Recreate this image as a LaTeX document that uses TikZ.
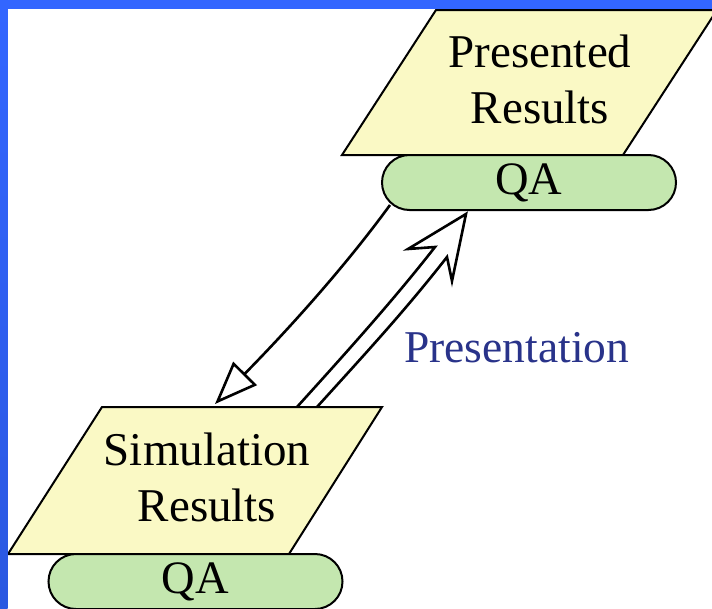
\documentclass[tikz,border=0pt]{standalone}
\usepackage{fontspec}
\setmainfont{Liberation Serif}
\usetikzlibrary{shapes.misc,arrows.meta}
\definecolor{pyellow}{RGB}{250,249,197}
\definecolor{pgreen}{RGB}{196,231,175}
\definecolor{frameblue}{RGB}{51,102,255}
\definecolor{frameblue2}{RGB}{42,88,225}
\definecolor{labelnavy}{RGB}{41,51,138}
\tikzset{
  databox/.style={draw=black, line width=2pt, fill=pyellow, line join=miter},
  qapill/.style={rounded rectangle, draw=black, line width=2pt, fill=pgreen,
     minimum width=294pt, minimum height=55pt, inner sep=0pt,
     font=\fontsize{46.5}{56}\selectfont},
  boxtext/.style={inner sep=0pt, anchor=base, font=\fontsize{47}{56.5}\selectfont},
  arrowline/.style={draw=black, line width=2.6pt},
  steplabel/.style={inner sep=0pt, anchor=base west, text=labelnavy,
     font=\fontsize{45.5}{54}\selectfont}
}
\begin{document}
\begin{tikzpicture}[x=1pt,y=-1pt]
\useasboundingbox (0,0) rectangle (712,608);
\clip (0,0) rectangle (712,608);
% background
\fill[white] (0,0) rectangle (712,608);
% top data box: Presented Results
\draw[databox] (342,155) -- (623,155) -- (717,10) -- (436,10) -- cycle;
\node[boxtext] (pres) at (540,67) {\begin{tabular}[t]{@{}c@{}}Presented\\Results\end{tabular}};
\node[qapill] (qatop) at (529,182.5) {QA};
% bottom data box: Simulation Results
\draw[databox] (8,554) -- (289,554) -- (382,407) -- (102,407) -- cycle;
\node[boxtext] (sim) at (207,465) {\begin{tabular}[t]{@{}c@{}}Simulation\\Results\end{tabular}};
\node[qapill] (qabot) at (195.5,581.5) {QA};
% connector end points
\coordinate (s1) at (390,205);
\coordinate (e1) at (215,404);
\coordinate (L0) at (297,407);
\coordinate (R0) at (317,407);
\coordinate (LN) at (435,247);
\coordinate (LW) at (408,249);
\coordinate (T)  at (466,214);
\coordinate (RW) at (452,281);
\coordinate (RN) at (447,257);
% single feedback arrow
\draw[arrowline, -{Triangle[open, length=43pt, width=33pt]}]
  (s1) .. controls (339,275) and (277,341) .. (e1);
% double presentation arrow
\draw[arrowline, line join=miter, miter limit=25]
  (L0) .. controls (344,355) and (392,302) .. (LN) -- (LW) -- (T) -- (RW) -- (RN)
  .. controls (404,312) and (364,355) .. (R0);
\node[steplabel] (plabel) at (404,362) {Presentation};
% frame strips
\shade[top color=frameblue, bottom color=frameblue2] (0,0) rectangle (7.5,608);
\fill[frameblue] (0,0) rectangle (712,8.5);
\end{tikzpicture}
\end{document}
